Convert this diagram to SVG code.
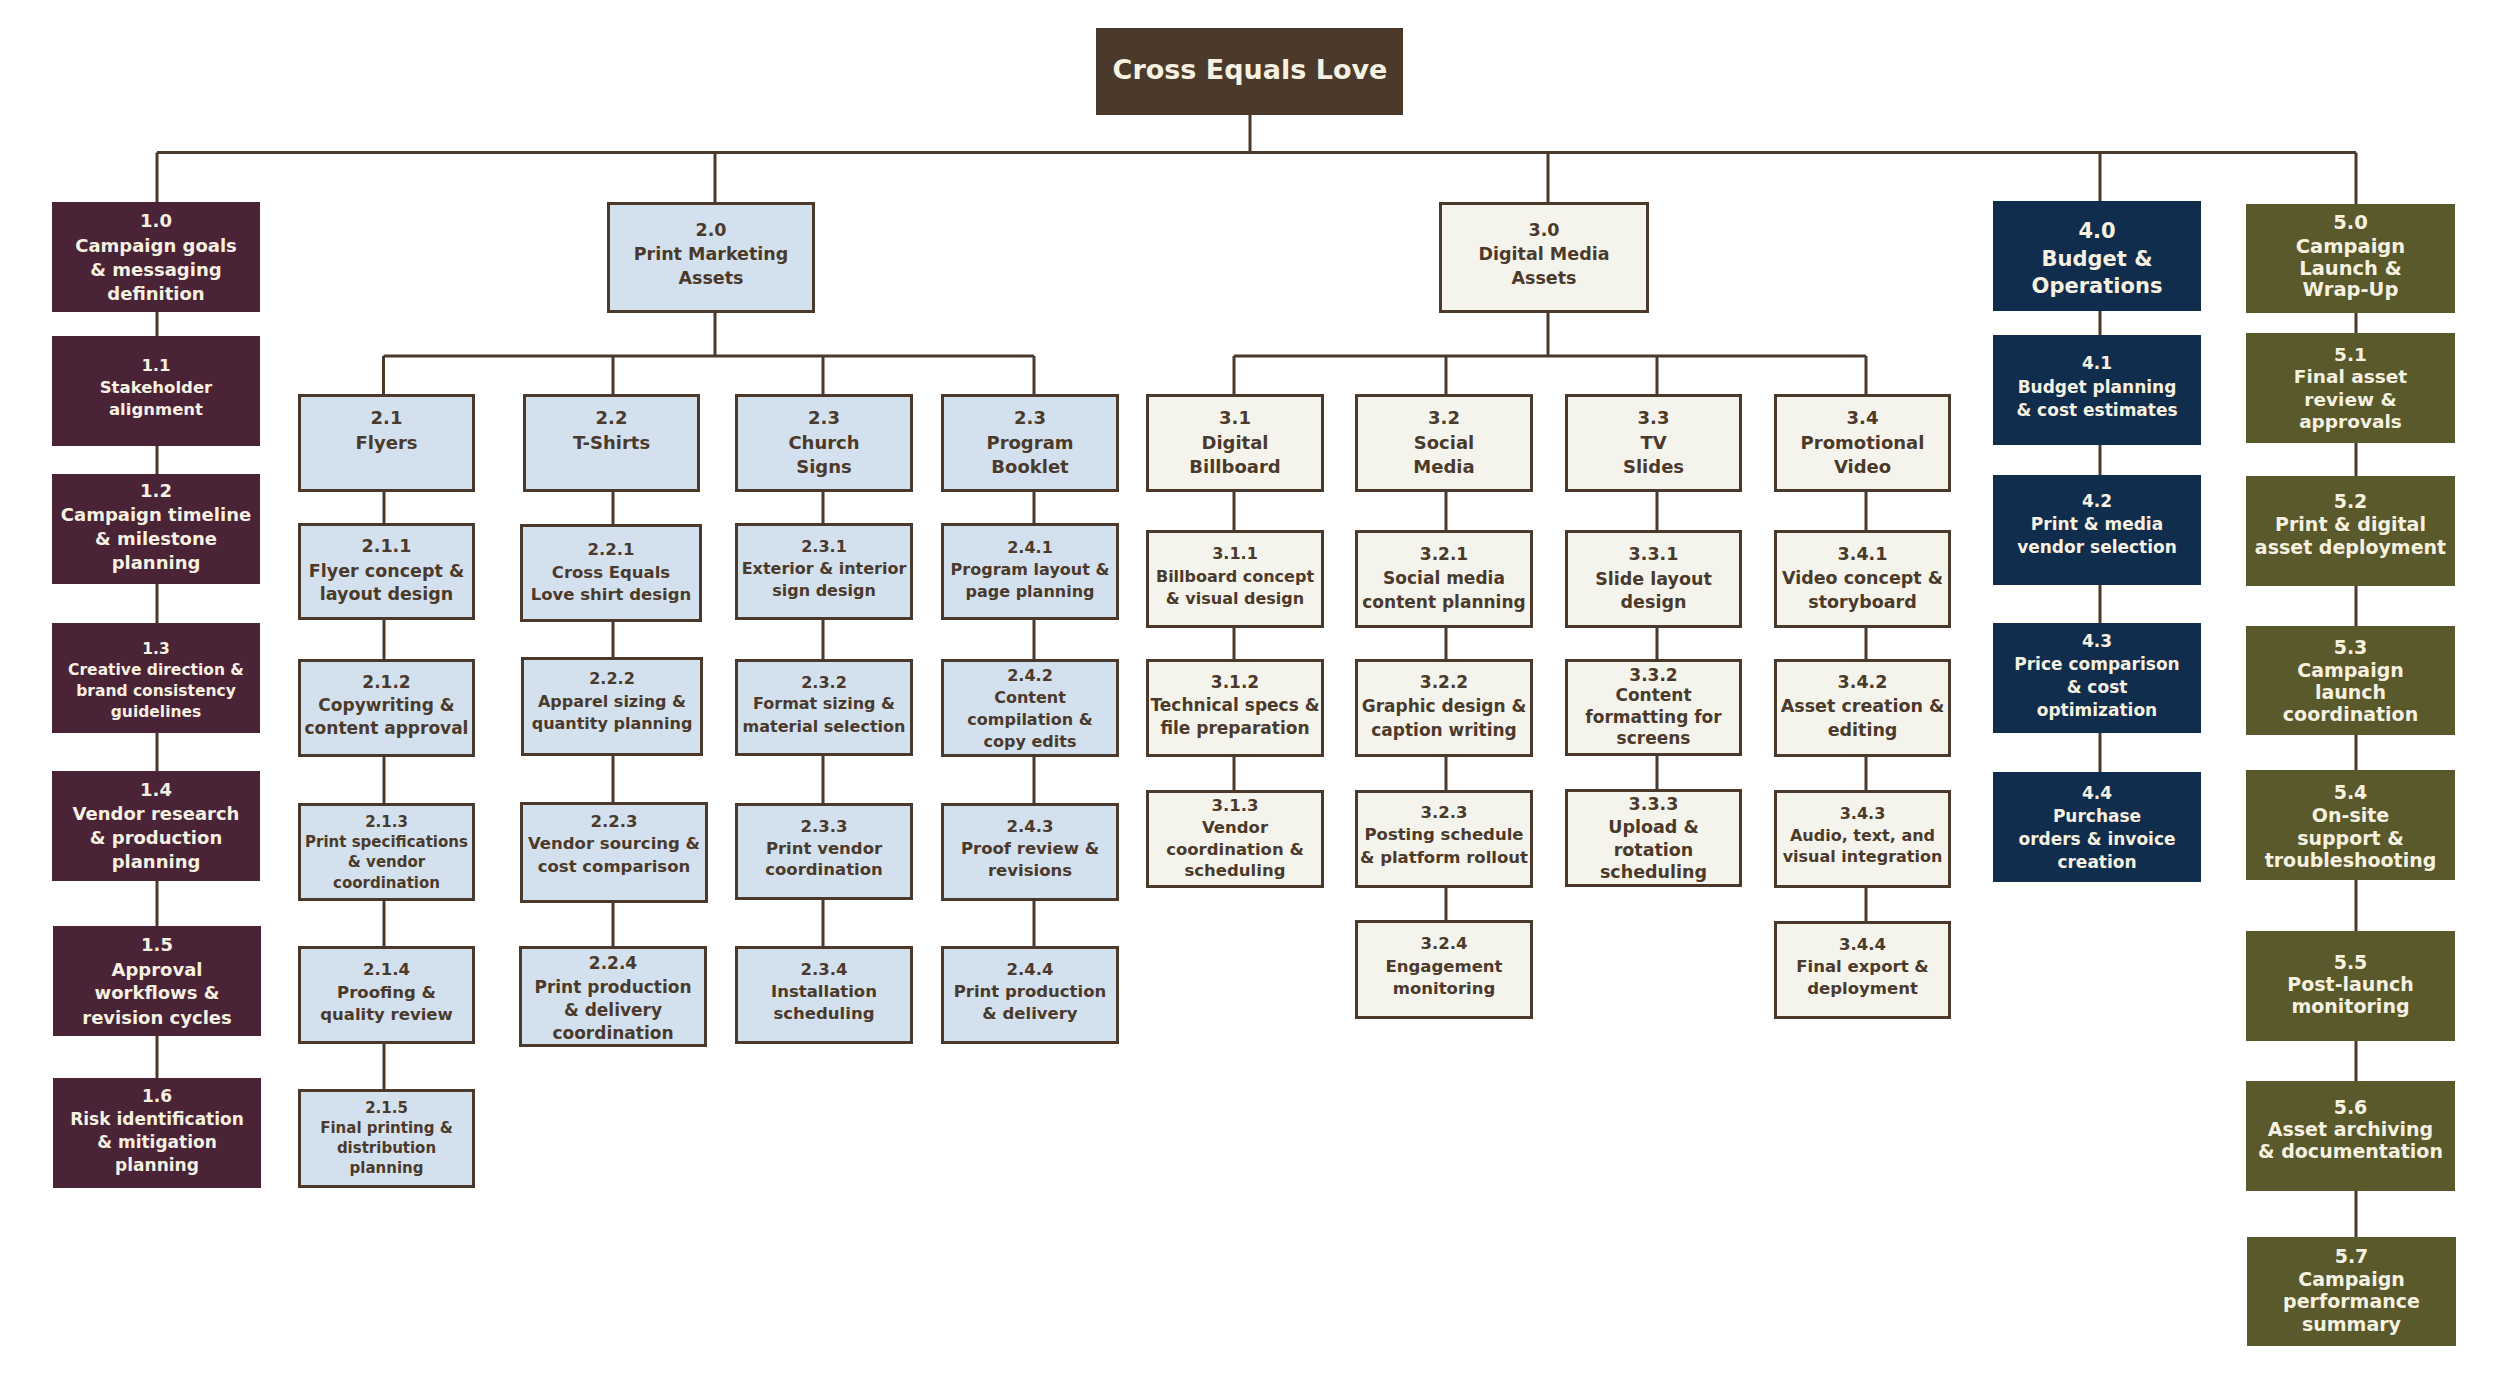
<svg xmlns="http://www.w3.org/2000/svg" width="2500" height="1382" viewBox="0 0 2500 1382">
<style>
.t{font-family:"DejaVu Sans","Liberation Sans",sans-serif;font-weight:bold;text-anchor:middle}
.lt{fill:#f6f1e1}
.dk{fill:#4b3a2b}
.root{fill:#4b3a2b}
.c1{fill:#4a2337}
.c2{fill:#d3e1ee;stroke:#4b3a2b;stroke-width:3}
.c3{fill:#f5f4ec;stroke:#4b3a2b;stroke-width:3}
.c4{fill:#112d4d}
.c5{fill:#59592b}
.ln{fill:none;stroke:#4b3a2b;stroke-width:3}
</style>
<rect width="2500" height="1382" fill="#ffffff"/>
<g id="connectors">
<path class="ln" d="M1250 115V152.5M157 152.5H2356M157 152.5V202M715 152.5V202M1548 152.5V202M2100 152.5V201M2356 152.5V204"/>
<path class="ln" d="M157 312V1078M2100 311V772M2356 313V1237"/>
<path class="ln" d="M715 313V356M383.5 356H1034M383.5 356V394M613 356V394M823 356V394M1034 356V394"/>
<path class="ln" d="M384 492V1089M613 492V946M823 492V946M1034 492V946"/>
<path class="ln" d="M1548 313V356M1234 356H1866M1234 356V394M1446 356V394M1657 356V394M1866 356V394"/>
<path class="ln" d="M1234 492V790M1446 492V920M1657 492V789M1866 492V921"/>
</g>
<g id="root"><rect class="root" x="1096" y="28" width="307" height="87"/><text class="t lt" font-size="27"><tspan x="1250" y="78.7">Cross Equals Love</tspan></text></g>

<g id="n1-0"><rect class="c1" x="52" y="202" width="208" height="110"/><text class="t lt" font-size="18"><tspan x="156" y="227.2">1.0</tspan><tspan x="156" y="252.2">Campaign goals</tspan><tspan x="156" y="275.8">&amp; messaging</tspan><tspan x="156" y="299.8">definition</tspan></text></g>
<g id="n1-1"><rect class="c1" x="52" y="336" width="208" height="110"/><text class="t lt" font-size="16.5"><tspan x="156" y="370.9">1.1</tspan><tspan x="156" y="393.2">Stakeholder</tspan><tspan x="156" y="415.2">alignment</tspan></text></g>
<g id="n1-2"><rect class="c1" x="52" y="474" width="208" height="110"/><text class="t lt" font-size="18"><tspan x="156" y="496.5">1.2</tspan><tspan x="156" y="520.5">Campaign timeline</tspan><tspan x="156" y="544.5">&amp; milestone</tspan><tspan x="156" y="568.5">planning</tspan></text></g>
<g id="n1-3"><rect class="c1" x="52" y="623" width="208" height="110"/><text class="t lt" font-size="15.5"><tspan x="156" y="653.6">1.3</tspan><tspan x="156" y="674.9">Creative direction &amp;</tspan><tspan x="156" y="696.3">brand consistency</tspan><tspan x="156" y="717.3">guidelines</tspan></text></g>
<g id="n1-4"><rect class="c1" x="52" y="771" width="208" height="110"/><text class="t lt" font-size="18"><tspan x="156" y="795.8">1.4</tspan><tspan x="156" y="819.8">Vendor research</tspan><tspan x="156" y="843.8">&amp; production</tspan><tspan x="156" y="868.2">planning</tspan></text></g>
<g id="n1-5"><rect class="c1" x="53" y="926" width="208" height="110"/><text class="t lt" font-size="18"><tspan x="157" y="951.2">1.5</tspan><tspan x="157" y="975.5">Approval</tspan><tspan x="157" y="999.2">workflows &amp;</tspan><tspan x="157" y="1023.5">revision cycles</tspan></text></g>
<g id="n1-6"><rect class="c1" x="53" y="1078" width="208" height="110"/><text class="t lt" font-size="17"><tspan x="157" y="1102.1">1.6</tspan><tspan x="157" y="1125.4">Risk identification</tspan><tspan x="157" y="1148.1">&amp; mitigation</tspan><tspan x="157" y="1171.4">planning</tspan></text></g>

<g id="n2-0"><rect class="c2" x="608.5" y="203.5" width="205" height="108"/><text class="t dk" font-size="17.5"><tspan x="711" y="235.6">2.0</tspan><tspan x="711" y="259.6">Print Marketing</tspan><tspan x="711" y="283.6">Assets</tspan></text></g>
<g id="n2-1"><rect class="c2" x="299.5" y="395.5" width="174" height="95"/><text class="t dk" font-size="18"><tspan x="386.5" y="424.2">2.1</tspan><tspan x="386.5" y="448.8">Flyers</tspan></text></g>
<g id="n2-2"><rect class="c2" x="524.5" y="395.5" width="174" height="95"/><text class="t dk" font-size="18"><tspan x="611.5" y="424.2">2.2</tspan><tspan x="611.5" y="448.8">T-Shirts</tspan></text></g>
<g id="n2-3"><rect class="c2" x="736.5" y="395.5" width="175" height="95"/><text class="t dk" font-size="18"><tspan x="824" y="424.2">2.3</tspan><tspan x="824" y="448.8">Church</tspan><tspan x="824" y="472.5">Signs</tspan></text></g>
<g id="n2-4"><rect class="c2" x="942.5" y="395.5" width="175" height="95"/><text class="t dk" font-size="18"><tspan x="1030" y="424.2">2.3</tspan><tspan x="1030" y="448.8">Program</tspan><tspan x="1030" y="472.5">Booklet</tspan></text></g>

<g id="n2-1-1"><rect class="c2" x="299.5" y="524.5" width="174" height="94"/><text class="t dk" font-size="17.5"><tspan x="386.5" y="552.3">2.1.1</tspan><tspan x="386.5" y="576.6">Flyer concept &amp;</tspan><tspan x="386.5" y="600.3">layout design</tspan></text></g>
<g id="n2-1-2"><rect class="c2" x="299.5" y="660.5" width="174" height="95"/><text class="t dk" font-size="17"><tspan x="386.5" y="687.8">2.1.2</tspan><tspan x="386.5" y="711.1">Copywriting &amp;</tspan><tspan x="386.5" y="733.8">content approval</tspan></text></g>
<g id="n2-1-3"><rect class="c2" x="299.5" y="804.5" width="174" height="95"/><text class="t dk" font-size="15"><tspan x="386.5" y="827.1">2.1.3</tspan><tspan x="386.5" y="847.4">Print specifications</tspan><tspan x="386.5" y="867.4">&amp; vendor</tspan><tspan x="386.5" y="887.7">coordination</tspan></text></g>
<g id="n2-1-4"><rect class="c2" x="299.5" y="947.5" width="174" height="95"/><text class="t dk" font-size="16.5"><tspan x="386.5" y="975.2">2.1.4</tspan><tspan x="386.5" y="997.6">Proofing &amp;</tspan><tspan x="386.5" y="1019.9">quality review</tspan></text></g>
<g id="n2-1-5"><rect class="c2" x="299.5" y="1090.5" width="174" height="96"/><text class="t dk" font-size="15"><tspan x="386.5" y="1113.1">2.1.5</tspan><tspan x="386.5" y="1133.1">Final printing &amp;</tspan><tspan x="386.5" y="1153.1">distribution</tspan><tspan x="386.5" y="1173.1">planning</tspan></text></g>

<g id="n2-2-1"><rect class="c2" x="521.5" y="525.5" width="179" height="95"/><text class="t dk" font-size="16.5"><tspan x="611" y="554.9">2.2.1</tspan><tspan x="611" y="577.6">Cross Equals</tspan><tspan x="611" y="599.6">Love shirt design</tspan></text></g>
<g id="n2-2-2"><rect class="c2" x="522.5" y="658.5" width="179" height="96"/><text class="t dk" font-size="16"><tspan x="612" y="683.5">2.2.2</tspan><tspan x="612" y="706.5">Apparel sizing &amp;</tspan><tspan x="612" y="729.1">quantity planning</tspan></text></g>
<g id="n2-2-3"><rect class="c2" x="521.5" y="803.5" width="185" height="98"/><text class="t dk" font-size="16.5"><tspan x="614" y="827.2">2.2.3</tspan><tspan x="614" y="849.2">Vendor sourcing &amp;</tspan><tspan x="614" y="871.6">cost comparison</tspan></text></g>
<g id="n2-2-4"><rect class="c2" x="520.5" y="947.5" width="185" height="98"/><text class="t dk" font-size="17"><tspan x="613" y="969.4">2.2.4</tspan><tspan x="613" y="992.8">Print production</tspan><tspan x="613" y="1016.1">&amp; delivery</tspan><tspan x="613" y="1038.8">coordination</tspan></text></g>

<g id="n2-3-1"><rect class="c2" x="736.5" y="524.5" width="175" height="94"/><text class="t dk" font-size="16"><tspan x="824" y="551.8">2.3.1</tspan><tspan x="824" y="574.1">Exterior &amp; interior</tspan><tspan x="824" y="595.8">sign design</tspan></text></g>
<g id="n2-3-2"><rect class="c2" x="736.5" y="660.5" width="175" height="94"/><text class="t dk" font-size="16"><tspan x="824" y="687.5">2.3.2</tspan><tspan x="824" y="709.1">Format sizing &amp;</tspan><tspan x="824" y="731.5">material selection</tspan></text></g>
<g id="n2-3-3"><rect class="c2" x="736.5" y="804.5" width="175" height="94"/><text class="t dk" font-size="16.5"><tspan x="824" y="831.6">2.3.3</tspan><tspan x="824" y="853.6">Print vendor</tspan><tspan x="824" y="875.2">coordination</tspan></text></g>
<g id="n2-3-4"><rect class="c2" x="736.5" y="947.5" width="175" height="95"/><text class="t dk" font-size="16.5"><tspan x="824" y="974.9">2.3.4</tspan><tspan x="824" y="996.9">Installation</tspan><tspan x="824" y="1018.6">scheduling</tspan></text></g>

<g id="n2-4-1"><rect class="c2" x="942.5" y="524.5" width="175" height="94"/><text class="t dk" font-size="16"><tspan x="1030" y="552.5">2.4.1</tspan><tspan x="1030" y="575.1">Program layout &amp;</tspan><tspan x="1030" y="597.1">page planning</tspan></text></g>
<g id="n2-4-2"><rect class="c2" x="942.5" y="660.5" width="175" height="95"/><text class="t dk" font-size="16"><tspan x="1030" y="680.8">2.4.2</tspan><tspan x="1030" y="703.1">Content</tspan><tspan x="1030" y="725.1">compilation &amp;</tspan><tspan x="1030" y="747.1">copy edits</tspan></text></g>
<g id="n2-4-3"><rect class="c2" x="942.5" y="804.5" width="175" height="95"/><text class="t dk" font-size="16.5"><tspan x="1030" y="831.6">2.4.3</tspan><tspan x="1030" y="853.9">Proof review &amp;</tspan><tspan x="1030" y="875.9">revisions</tspan></text></g>
<g id="n2-4-4"><rect class="c2" x="942.5" y="947.5" width="175" height="95"/><text class="t dk" font-size="16.5"><tspan x="1030" y="974.9">2.4.4</tspan><tspan x="1030" y="996.9">Print production</tspan><tspan x="1030" y="1019.2">&amp; delivery</tspan></text></g>

<g id="n3-0"><rect class="c3" x="1440.5" y="203.5" width="207" height="108"/><text class="t dk" font-size="17.5"><tspan x="1544" y="235.6">3.0</tspan><tspan x="1544" y="259.6">Digital Media</tspan><tspan x="1544" y="283.6">Assets</tspan></text></g>
<g id="n3-1"><rect class="c3" x="1147.5" y="395.5" width="175" height="95"/><text class="t dk" font-size="18"><tspan x="1235" y="424.2">3.1</tspan><tspan x="1235" y="448.8">Digital</tspan><tspan x="1235" y="472.5">Billboard</tspan></text></g>
<g id="n3-2"><rect class="c3" x="1356.5" y="395.5" width="175" height="95"/><text class="t dk" font-size="18"><tspan x="1444" y="424.2">3.2</tspan><tspan x="1444" y="448.8">Social</tspan><tspan x="1444" y="472.5">Media</tspan></text></g>
<g id="n3-3"><rect class="c3" x="1566.5" y="395.5" width="174" height="95"/><text class="t dk" font-size="18"><tspan x="1653.5" y="424.2">3.3</tspan><tspan x="1653.5" y="448.8">TV</tspan><tspan x="1653.5" y="472.5">Slides</tspan></text></g>
<g id="n3-4"><rect class="c3" x="1775.5" y="395.5" width="174" height="95"/><text class="t dk" font-size="18"><tspan x="1862.5" y="424.2">3.4</tspan><tspan x="1862.5" y="448.8">Promotional</tspan><tspan x="1862.5" y="472.5">Video</tspan></text></g>

<g id="n3-1-1"><rect class="c3" x="1147.5" y="531.5" width="175" height="95"/><text class="t dk" font-size="16"><tspan x="1235" y="559.1">3.1.1</tspan><tspan x="1235" y="581.5">Billboard concept</tspan><tspan x="1235" y="603.5">&amp; visual design</tspan></text></g>
<g id="n3-1-2"><rect class="c3" x="1147.5" y="660.5" width="175" height="95"/><text class="t dk" font-size="17"><tspan x="1235" y="687.8">3.1.2</tspan><tspan x="1235" y="711.1">Technical specs &amp;</tspan><tspan x="1235" y="733.8">file preparation</tspan></text></g>
<g id="n3-1-3"><rect class="c3" x="1147.5" y="791.5" width="175" height="95"/><text class="t dk" font-size="16.5"><tspan x="1235" y="811.2">3.1.3</tspan><tspan x="1235" y="832.9">Vendor</tspan><tspan x="1235" y="854.9">coordination &amp;</tspan><tspan x="1235" y="876.2">scheduling</tspan></text></g>

<g id="n3-2-1"><rect class="c3" x="1356.5" y="531.5" width="175" height="95"/><text class="t dk" font-size="17"><tspan x="1444" y="560.1">3.2.1</tspan><tspan x="1444" y="584.4">Social media</tspan><tspan x="1444" y="607.8">content planning</tspan></text></g>
<g id="n3-2-2"><rect class="c3" x="1356.5" y="660.5" width="175" height="95"/><text class="t dk" font-size="17"><tspan x="1444" y="688.4">3.2.2</tspan><tspan x="1444" y="712.1">Graphic design &amp;</tspan><tspan x="1444" y="736.1">caption writing</tspan></text></g>
<g id="n3-2-3"><rect class="c3" x="1356.5" y="791.5" width="175" height="95"/><text class="t dk" font-size="16.5"><tspan x="1444" y="818.2">3.2.3</tspan><tspan x="1444" y="840.2">Posting schedule</tspan><tspan x="1444" y="862.6">&amp; platform rollout</tspan></text></g>
<g id="n3-2-4"><rect class="c3" x="1356.5" y="921.5" width="175" height="96"/><text class="t dk" font-size="16.5"><tspan x="1444" y="949.2">3.2.4</tspan><tspan x="1444" y="971.6">Engagement</tspan><tspan x="1444" y="993.6">monitoring</tspan></text></g>

<g id="n3-3-1"><rect class="c3" x="1566.5" y="531.5" width="174" height="95"/><text class="t dk" font-size="17.5"><tspan x="1653.5" y="560.3">3.3.1</tspan><tspan x="1653.5" y="584.6">Slide layout</tspan><tspan x="1653.5" y="608">design</tspan></text></g>
<g id="n3-3-2"><rect class="c3" x="1566.5" y="660.5" width="174" height="94"/><text class="t dk" font-size="17"><tspan x="1653.5" y="681.1">3.3.2</tspan><tspan x="1653.5" y="701.4">Content</tspan><tspan x="1653.5" y="723.4">formatting for</tspan><tspan x="1653.5" y="744.4">screens</tspan></text></g>
<g id="n3-3-3"><rect class="c3" x="1566.5" y="790.5" width="174" height="95"/><text class="t dk" font-size="17.5"><tspan x="1653.5" y="810.3">3.3.3</tspan><tspan x="1653.5" y="833">Upload &amp;</tspan><tspan x="1653.5" y="855.6">rotation</tspan><tspan x="1653.5" y="877.6">scheduling</tspan></text></g>

<g id="n3-4-1"><rect class="c3" x="1775.5" y="531.5" width="174" height="95"/><text class="t dk" font-size="17.5"><tspan x="1862.5" y="560.3">3.4.1</tspan><tspan x="1862.5" y="584.3">Video concept &amp;</tspan><tspan x="1862.5" y="608.3">storyboard</tspan></text></g>
<g id="n3-4-2"><rect class="c3" x="1775.5" y="660.5" width="174" height="95"/><text class="t dk" font-size="17.5"><tspan x="1862.5" y="688.3">3.4.2</tspan><tspan x="1862.5" y="712">Asset creation &amp;</tspan><tspan x="1862.5" y="736.3">editing</tspan></text></g>
<g id="n3-4-3"><rect class="c3" x="1775.5" y="791.5" width="174" height="95"/><text class="t dk" font-size="16"><tspan x="1862.5" y="818.7">3.4.3</tspan><tspan x="1862.5" y="840.5">Audio, text, and</tspan><tspan x="1862.5" y="862.3">visual integration</tspan></text></g>
<g id="n3-4-4"><rect class="c3" x="1775.5" y="922.5" width="174" height="95"/><text class="t dk" font-size="16.5"><tspan x="1862.5" y="949.7">3.4.4</tspan><tspan x="1862.5" y="972.3">Final export &amp;</tspan><tspan x="1862.5" y="994.1">deployment</tspan></text></g>

<g id="n4-0"><rect class="c4" x="1993" y="201" width="208" height="110"/><text class="t lt" font-size="21"><tspan x="2097" y="238.3">4.0</tspan><tspan x="2097" y="265.9">Budget &amp;</tspan><tspan x="2097" y="292.6">Operations</tspan></text></g>
<g id="n4-1"><rect class="c4" x="1993" y="335" width="208" height="110"/><text class="t lt" font-size="17"><tspan x="2097" y="369.4">4.1</tspan><tspan x="2097" y="392.8">Budget planning</tspan><tspan x="2097" y="416.1">&amp; cost estimates</tspan></text></g>
<g id="n4-2"><rect class="c4" x="1993" y="475" width="208" height="110"/><text class="t lt" font-size="17"><tspan x="2097" y="506.8">4.2</tspan><tspan x="2097" y="530.1">Print &amp; media</tspan><tspan x="2097" y="552.8">vendor selection</tspan></text></g>
<g id="n4-3"><rect class="c4" x="1993" y="623" width="208" height="110"/><text class="t lt" font-size="17"><tspan x="2097" y="647.1">4.3</tspan><tspan x="2097" y="670.1">Price comparison</tspan><tspan x="2097" y="692.8">&amp; cost</tspan><tspan x="2097" y="716.1">optimization</tspan></text></g>
<g id="n4-4"><rect class="c4" x="1993" y="772" width="208" height="110"/><text class="t lt" font-size="17"><tspan x="2097" y="798.7">4.4</tspan><tspan x="2097" y="821.7">Purchase</tspan><tspan x="2097" y="844.6">orders &amp; invoice</tspan><tspan x="2097" y="867.6">creation</tspan></text></g>

<g id="n5-0"><rect class="c5" x="2246" y="204" width="209" height="109"/><text class="t lt" font-size="19.5"><tspan x="2350.5" y="228.7">5.0</tspan><tspan x="2350.5" y="252.7">Campaign</tspan><tspan x="2350.5" y="274.7">Launch &amp;</tspan><tspan x="2350.5" y="296.3">Wrap-Up</tspan></text></g>
<g id="n5-1"><rect class="c5" x="2246" y="333" width="209" height="110"/><text class="t lt" font-size="18.5"><tspan x="2350.5" y="360.7">5.1</tspan><tspan x="2350.5" y="382.7">Final asset</tspan><tspan x="2350.5" y="405.7">review &amp;</tspan><tspan x="2350.5" y="428.4">approvals</tspan></text></g>
<g id="n5-2"><rect class="c5" x="2246" y="476" width="209" height="110"/><text class="t lt" font-size="19"><tspan x="2350.5" y="507.5">5.2</tspan><tspan x="2350.5" y="530.8">Print &amp; digital</tspan><tspan x="2350.5" y="553.5">asset deployment</tspan></text></g>
<g id="n5-3"><rect class="c5" x="2246" y="626" width="209" height="109"/><text class="t lt" font-size="19"><tspan x="2350.5" y="654.1">5.3</tspan><tspan x="2350.5" y="676.8">Campaign</tspan><tspan x="2350.5" y="699.1">launch</tspan><tspan x="2350.5" y="721.1">coordination</tspan></text></g>
<g id="n5-4"><rect class="c5" x="2246" y="770" width="209" height="110"/><text class="t lt" font-size="19"><tspan x="2350.5" y="799.4">5.4</tspan><tspan x="2350.5" y="822.4">On-site</tspan><tspan x="2350.5" y="845.3">support &amp;</tspan><tspan x="2350.5" y="867.2">troubleshooting</tspan></text></g>
<g id="n5-5"><rect class="c5" x="2246" y="931" width="209" height="110"/><text class="t lt" font-size="19"><tspan x="2350.5" y="968.6">5.5</tspan><tspan x="2350.5" y="990.8">Post-launch</tspan><tspan x="2350.5" y="1013.3">monitoring</tspan></text></g>
<g id="n5-6"><rect class="c5" x="2246" y="1081" width="209" height="110"/><text class="t lt" font-size="19"><tspan x="2350.5" y="1114">5.6</tspan><tspan x="2350.5" y="1136.2">Asset archiving</tspan><tspan x="2350.5" y="1158.4">&amp; documentation</tspan></text></g>
<g id="n5-7"><rect class="c5" x="2247" y="1237" width="209" height="109"/><text class="t lt" font-size="19"><tspan x="2351.5" y="1263.2">5.7</tspan><tspan x="2351.5" y="1286.2">Campaign</tspan><tspan x="2351.5" y="1308.4">performance</tspan><tspan x="2351.5" y="1331">summary</tspan></text></g>
</svg>
